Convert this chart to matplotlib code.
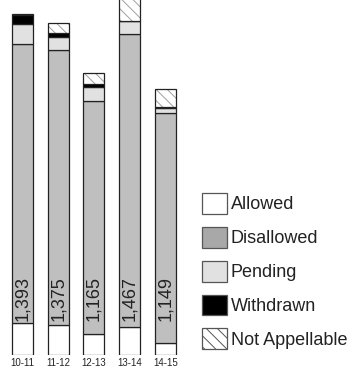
import matplotlib
matplotlib.use("Agg")
import matplotlib.pyplot as plt
from matplotlib.patches import Patch
import numpy as np

plt.rcParams['font.family'] = ['Liberation Sans', 'DejaVu Sans']
plt.rcParams['hatch.linewidth'] = 0.7

# data
years = ["10-11", "11-12", "12-13", "13-14", "14-15"]
allowed = [160, 150, 105, 140, 60]
disallowed = [1393, 1375, 1165, 1467, 1149]
pending = [100, 65, 70, 65, 25]
withdrawn = [45, 20, 15, 0, 4]
not_appellable = [8, 50, 55, 120, 90]

categories = ["Allowed", "Disallowed", "Pending", "Withdrawn", "Not Appellable"]
fills = ["white", "#bfbfbf", "#e1e1e1", "black", "white"]
legend_fills = ["white", "#a8a8a8", "#e1e1e1", "black", "white"]

fig = plt.figure(figsize=(3.53, 3.67), dpi=100)
ax = fig.add_axes([4.6 / 353, 12 / 367, 178.75 / 353, 355 / 367])

x = np.arange(len(years))
w = 0.587
bottom = np.zeros(len(years))
series = [allowed, disallowed, pending, withdrawn, not_appellable]
for vals, fc, name in zip(series, fills, categories):
    vals = np.array(vals, dtype=float)
    if name == "Not Appellable":
        # hatch layer in grey, then a black outline on top
        ax.bar(x, vals, w, bottom=bottom, color="white", edgecolor="#a0a0a0",
               linewidth=0, hatch="\\\\\\")
        ax.bar(x, vals, w, bottom=bottom, fill=False, edgecolor="#222222",
               linewidth=0.9)
    else:
        ax.bar(x, vals, w, bottom=bottom, color=fc, edgecolor="#222222",
               linewidth=0.9)
    bottom += vals

# value labels inside the disallowed segment
for i, v in enumerate(disallowed):
    ax.text(x[i], 170, f"{v:,}", rotation=90, ha="center", va="bottom",
            fontsize=13, color="#222222")

ax.set_xlim(-0.5, 4.5)
ax.set_ylim(0, 1775)
ax.set_xticks(x)
ax.set_xticklabels(years, fontsize=7, color="#222222")
ax.tick_params(axis="x", length=0, pad=2.5)
ax.set_yticks([])
for s in ax.spines.values():
    s.set_visible(False)

handles = []
for fc, name in zip(legend_fills, categories):
    if name == "Not Appellable":
        handles.append(Patch(facecolor="white", edgecolor="#555555",
                             hatch="\\\\\\", linewidth=0.9, label=name))
    else:
        handles.append(Patch(facecolor=fc, edgecolor="#555555",
                             linewidth=0.9, label=name))

fig.legend(handles=handles, loc="upper left",
           bbox_to_anchor=(201.7 / 353, (367 - 193) / 367),
           frameon=False, fontsize=13, borderpad=0, borderaxespad=0,
           handlelength=1.4, handleheight=1.4, handletextpad=0.2,
           labelspacing=0.72, labelcolor="#222222")

fig.savefig("out.png", dpi=100)
